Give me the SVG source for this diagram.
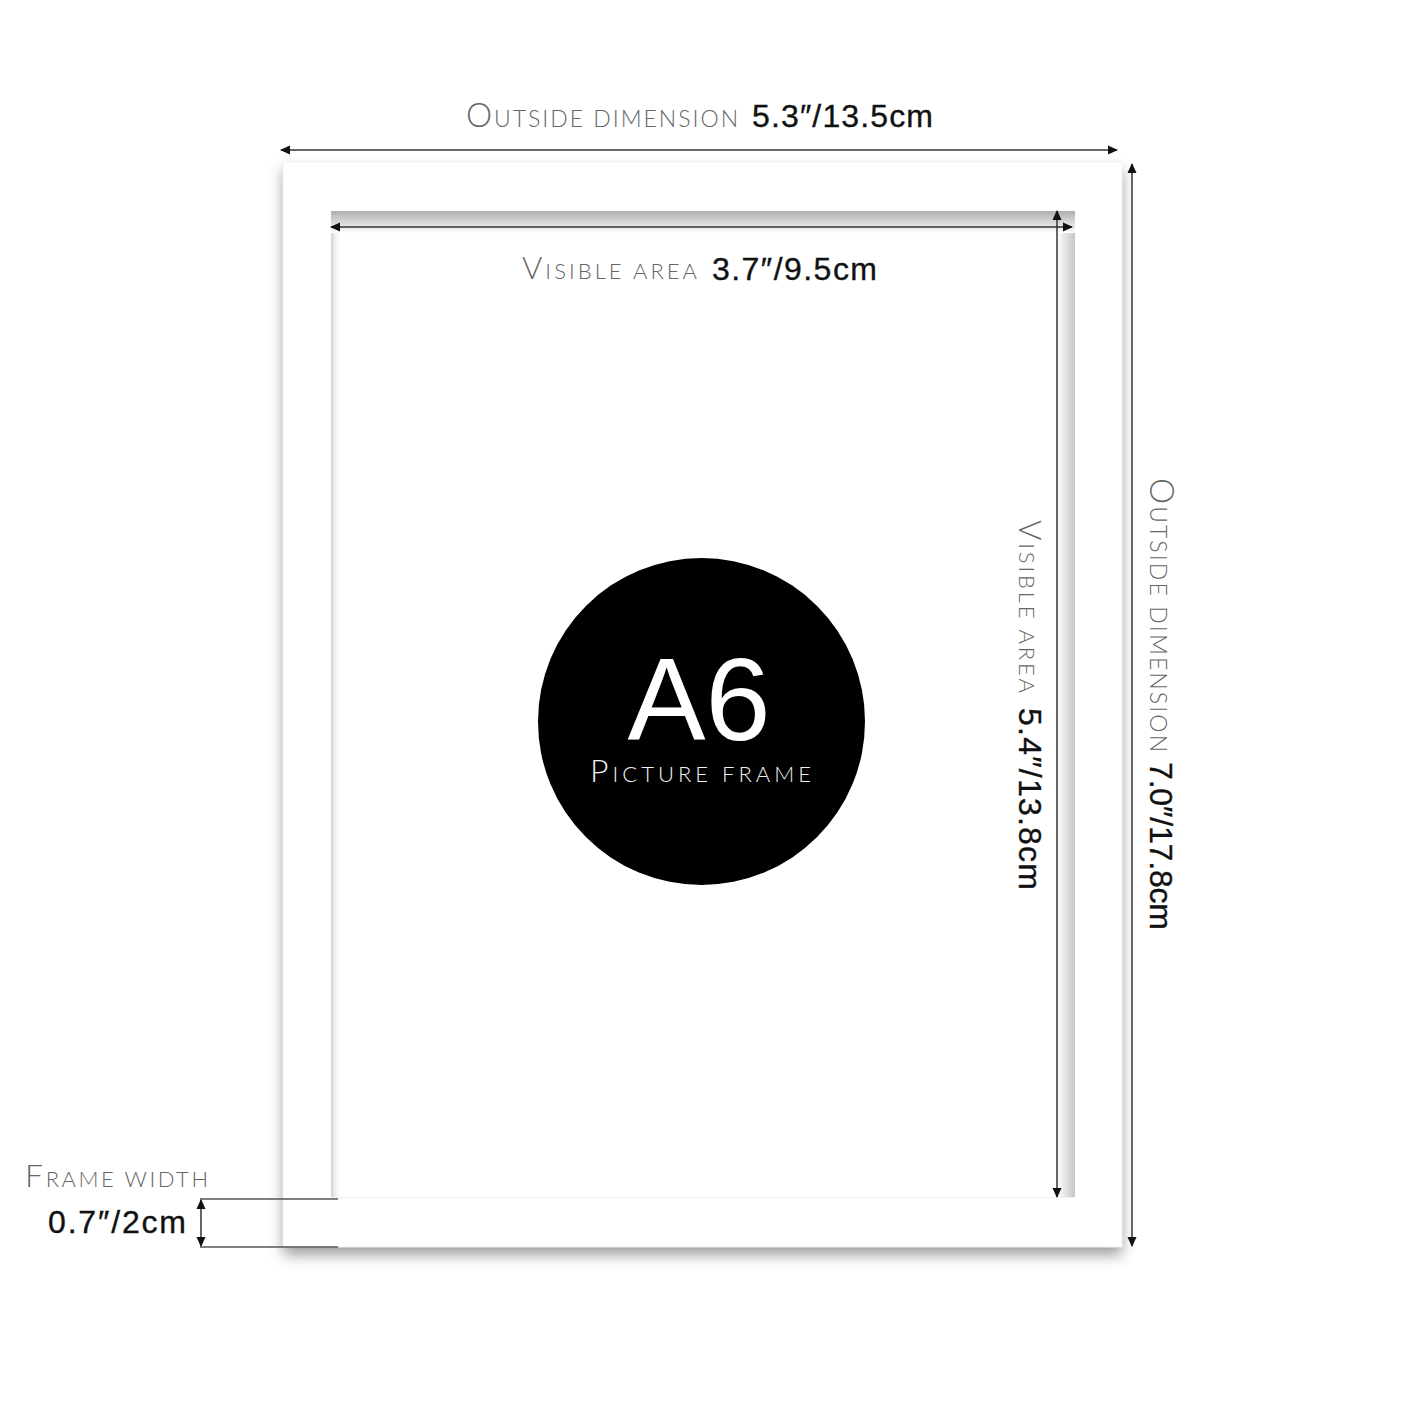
<svg xmlns="http://www.w3.org/2000/svg" width="1414" height="1410" viewBox="0 0 1414 1410">
<style>
.lbl{font-family:Lato,"Liberation Sans",sans-serif;font-weight:300;fill:#666}
.cap{font-size:33px}
.sc{font-size:23px}
.num{font-family:"Liberation Sans",Arial,sans-serif;fill:#111;stroke:#111;stroke-width:0.35;font-size:32px}
.dim{stroke:#333;stroke-width:1.5;fill:none;marker-start:url(#ah);marker-end:url(#ah)}
.tick{stroke:#555;stroke-width:1.5}
</style>
<defs>
<marker id="ah" viewBox="0 0 10 10" refX="9" refY="5" markerWidth="10" markerHeight="10" markerUnits="userSpaceOnUse" orient="auto-start-reverse">
<path d="M0,0.5 L10,5 L0,9.5 z" fill="#111"/>
</marker>
<filter id="shadow" x="-10%" y="-10%" width="120%" height="120%">
<feDropShadow dx="0" dy="8" stdDeviation="7" flood-color="#000" flood-opacity="0.38"/>
</filter>
<linearGradient id="gTop" x1="0" y1="0" x2="0" y2="1">
<stop offset="0" stop-color="#aeaeae"/>
<stop offset="1" stop-color="#ffffff"/>
</linearGradient>
<linearGradient id="gRight" x1="0" y1="0" x2="1" y2="0">
<stop offset="0" stop-color="#ffffff"/>
<stop offset="1" stop-color="#c6c6c6"/>
</linearGradient>
<linearGradient id="gLeft" x1="0" y1="0" x2="1" y2="0">
<stop offset="0" stop-color="#cfcfcf"/>
<stop offset="1" stop-color="#ffffff" stop-opacity="0"/>
</linearGradient>
</defs>
<rect width="1414" height="1410" fill="#fff"/>

<g id="frame">
<rect x="283" y="162" width="839" height="1085" fill="#fff" filter="url(#shadow)"/>
<rect x="283" y="162" width="839" height="1085" fill="none" stroke="#f2f2f2" stroke-width="1"/>
</g>
<g id="opening">
<rect x="331" y="211" width="744" height="986" fill="#fff"/>
<rect x="331" y="211" width="10" height="986" fill="url(#gLeft)"/>
<rect x="1057" y="211" width="18" height="986" fill="url(#gRight)"/>
<rect x="331" y="211" width="744" height="22" fill="url(#gTop)"/>
<line x1="331" y1="1197.5" x2="1075" y2="1197.5" stroke="#efefef" stroke-width="1"/>
</g>

<g id="badge">
<circle cx="701.5" cy="721.5" r="163.5" fill="#000"/>
<text x="699" y="740" text-anchor="middle" font-family="'Liberation Sans',Arial,sans-serif" font-size="117" fill="#fff">A6</text>
<text x="590" y="782" class="lbl" style="fill:#f0f0f0" textLength="221" lengthAdjust="spacing"><tspan font-size="32">P</tspan><tspan font-size="22">ICTURE FRAME</tspan></text>
</g>

<g id="connectors">
<line class="dim" x1="281" y1="150" x2="1117" y2="150"/>
<line class="dim" x1="1132" y1="164" x2="1132" y2="1246"/>
<line class="dim" x1="331" y1="227" x2="1072" y2="227"/>
<line class="dim" x1="1057" y1="211" x2="1057" y2="1197"/>
<line class="tick" x1="200" y1="1199" x2="338" y2="1199"/>
<line class="tick" x1="200" y1="1247" x2="338" y2="1247"/>
<line class="dim" x1="201" y1="1200" x2="201" y2="1246"/>
</g>

<g id="label-outside-h">
<text x="466" y="127" class="lbl" textLength="272" lengthAdjust="spacing"><tspan class="cap">O</tspan><tspan class="sc">UTSIDE DIMENSION</tspan></text>
<text x="752" y="127" class="num" textLength="181" lengthAdjust="spacing">5.3″/13.5cm</text>
</g>
<g id="label-visible-h">
<text x="522" y="279" class="lbl" textLength="175" lengthAdjust="spacing"><tspan font-size="31">V</tspan><tspan font-size="22">ISIBLE AREA</tspan></text>
<text x="712" y="280" class="num" font-size="31" textLength="165" lengthAdjust="spacing">3.7″/9.5cm</text>
</g>
<g id="label-visible-v" transform="translate(1019,520) rotate(90)">
<text x="0" y="0" class="lbl" textLength="173" lengthAdjust="spacing"><tspan font-size="31">V</tspan><tspan font-size="22">ISIBLE AREA</tspan></text>
<text x="188" y="0" class="num" textLength="182" lengthAdjust="spacing">5.4″/13.8cm</text>
</g>
<g id="label-outside-v" transform="translate(1150,478) rotate(90)">
<text x="0" y="0" class="lbl" textLength="274" lengthAdjust="spacing"><tspan class="cap">O</tspan><tspan class="sc">UTSIDE DIMENSION</tspan></text>
<text x="284" y="0" class="num" textLength="168" lengthAdjust="spacing">7.0″/17.8cm</text>
</g>
<g id="label-frame-width">
<text x="25" y="1187" class="lbl" textLength="183" lengthAdjust="spacing"><tspan font-size="32">F</tspan><tspan font-size="22">RAME WIDTH</tspan></text>
<text x="48" y="1233" class="num" font-size="31" textLength="138" lengthAdjust="spacing">0.7″/2cm</text>
</g>
</svg>
